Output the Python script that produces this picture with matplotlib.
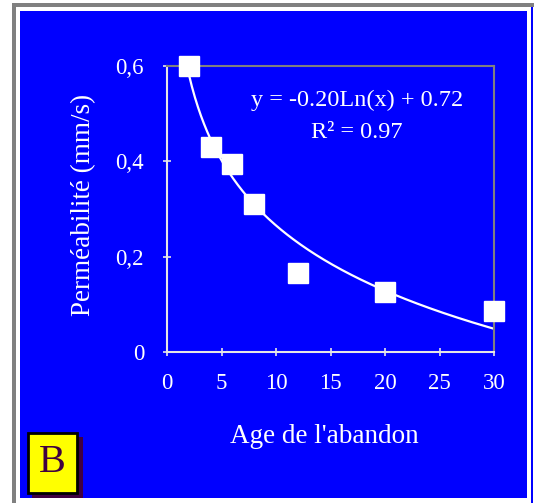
import numpy as np
import matplotlib
matplotlib.use('Agg')
import matplotlib.pyplot as plt
from matplotlib.patches import Rectangle

# data
age = np.array([2, 4, 6, 8, 12, 20, 30])
perm = np.array([0.60, 0.43, 0.395, 0.31, 0.165, 0.126, 0.086])
xticks = [0, 5, 10, 15, 20, 25, 30]
yticks = [0, 0.2, 0.4, 0.6]
ylabels = ['0', '0,2', '0,4', '0,6']
eq_text = 'y = -0.20Ln(x) + 0.72'
r2_text = 'R² = 0.97'

W, H = 534, 503
BLUE = '#0000FF'
LINE = '#E6E6E6'

plt.rcParams['font.family'] = ['Liberation Serif', 'DejaVu Serif']

def rect(x0, y0, x1, y1, **kw):
    # pixel box (top-left origin) -> figure fraction rectangle
    return Rectangle((x0 / W, 1 - y1 / H), (x1 - x0) / W, (y1 - y0) / H,
                     transform=fig.transFigure, **kw)

fig = plt.figure(figsize=(W / 100, H / 100), dpi=100)
fig.patch.set_facecolor('white')

# frame around the chart (behind the axes)
fig.add_artist(rect(12, 3, 534, 7, facecolor='#808080', edgecolor='none', zorder=-10))
fig.add_artist(rect(12, 3, 16, 503, facecolor='#808080', edgecolor='none', zorder=-10))
fig.add_artist(rect(20, 11, 527, 498, facecolor=BLUE, edgecolor='none', zorder=-10))
fig.add_artist(rect(531, 7, 533, 503, facecolor=BLUE, edgecolor='none', zorder=-10))

ax = fig.add_axes([167 / W, 1 - 352 / H, (494 - 167) / W, (352 - 66) / H])
ax.set_facecolor('none')
ax.set_xlim(0, 30)
ax.set_ylim(0, 0.6)

# log trendline fitted on the points
coef = np.polyfit(np.log(age), perm, 1)
xs = np.linspace(age.min(), age.max(), 200)
ax.plot(xs, coef[0] * np.log(xs) + coef[1], color='white', lw=1.6, zorder=2)
ax.plot(age, perm, linestyle='none', marker='s', markersize=14.5,
        markerfacecolor='white', markeredgecolor='white', clip_on=False, zorder=3)

for s in ['top', 'right']:
    ax.spines[s].set_color('#808080')
    ax.spines[s].set_linewidth(1.5)
for s in ['left', 'bottom']:
    ax.spines[s].set_color(LINE)
    ax.spines[s].set_linewidth(1.5)

ax.set_xticks(xticks)
ax.set_xticklabels([str(t) for t in xticks])
ax.set_yticks(yticks)
ax.set_yticklabels(ylabels)
ax.tick_params(direction='inout', length=6, width=1.2, color=LINE,
               labelcolor='white', labelsize=16.5)
ax.tick_params(axis='x', pad=12)
ax.tick_params(axis='y', pad=13.5)

ax.set_xlabel("Age de l'abandon", color='white', fontsize=19.5)
ax.xaxis.set_label_coords(0.48, -0.297)
ax.xaxis.label.set_va('center')
ax.set_ylabel('Perméabilité (mm/s)', color='white', fontsize=19.5)
ax.yaxis.set_label_coords(-0.254, 0.514)
ax.yaxis.label.set_va('center')

ax.text(0.581, 0.881, eq_text, transform=ax.transAxes, color='white',
        fontsize=17.5, ha='center', va='center')
ax.text(0.581, 0.769, r2_text, transform=ax.transAxes, color='white',
        fontsize=17.5, ha='center', va='center')

# panel letter
fig.add_artist(rect(32, 437, 83, 498, facecolor='#400040', edgecolor='none', zorder=5))
fig.add_artist(rect(28, 433, 77, 493, facecolor='#FFFF00', edgecolor='black',
                    linewidth=2, zorder=6))
fig.text(52.5 / W, 1 - 463 / H, 'B', color='#400040', fontsize=29,
         ha='center', va='center', zorder=7)

fig.savefig('out.png', dpi=100)
